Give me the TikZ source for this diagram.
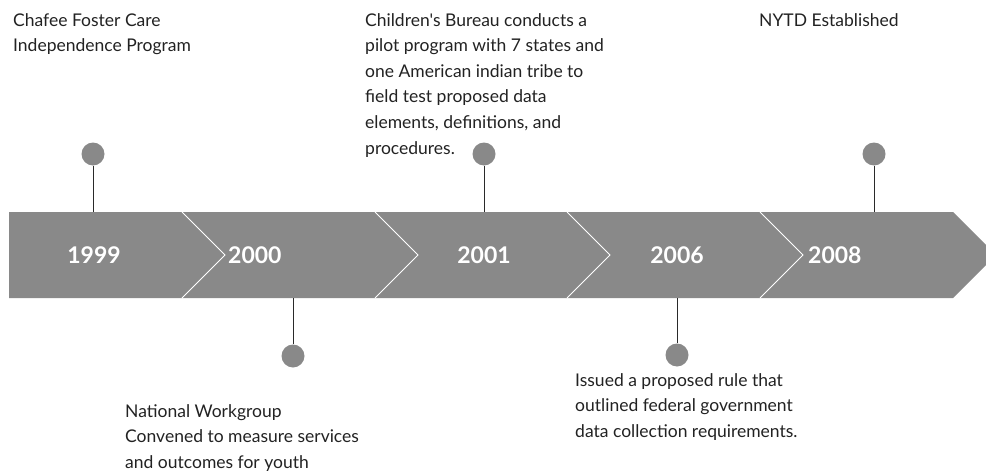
\documentclass[tikz,border=0pt]{standalone}
\usepackage{fontspec}
\setmainfont{Lato}[Ligatures=TeXOff]
\definecolor{bandgrey}{HTML}{898989}
\definecolor{txt}{HTML}{222222}
\definecolor{stemc}{HTML}{2A2A2A}
\begin{document}
\begin{tikzpicture}[x=1pt,y=-1pt,
  band/.style={fill=bandgrey},
  chev/.style={draw=white, line width=0.8pt},
  year/.style={text=white, font=\fontsize{23}{27}\selectfont\bfseries, inner sep=0pt},
  dot/.style={circle, fill=bandgrey, minimum size=23pt, inner sep=0pt},
  stem/.style={draw=stemc, line width=1pt},
  desc/.style={text=txt, font=\fontsize{17.5}{25.6}\selectfont, align=left, inner sep=0pt, anchor=north west}]
\useasboundingbox (0,0) rectangle (986,471);
\clip (0,0) rectangle (986,471);
% band
\fill[band] (9,212) -- (953,212) -- (996,255) -- (953,298) -- (9,298) -- cycle;
\foreach \x in {182,375,567,760}{
  \draw[chev] (\x,212) -- (\x+43,255) -- (\x,298);
}
% years
\node[year] (y1) at (94,255) {1999};
\node[year, anchor=west] (y2) at (228,255) {2000};
\node[year] (y3) at (484,255) {2001};
\node[year] (y4) at (677,255) {2006};
\node[year, anchor=west] (y5) at (808,255) {2008};
% dots and stems
\node[dot] (c1) at (93,154) {};
\node[dot] (c2) at (293,356) {};
\node[dot] (c3) at (484,154) {};
\node[dot] (c4) at (677,355) {};
\node[dot] (c5) at (874,154) {};
\coordinate (b1) at (93,212);
\coordinate (b2) at (293,298);
\coordinate (b3) at (484,212);
\coordinate (b4) at (677,298);
\coordinate (b5) at (874,212);
\draw[stem] (c1) -- (b1);
\draw[stem] (c2) -- (b2);
\draw[stem] (c3) -- (b3);
\draw[stem] (c4) -- (b4);
\draw[stem] (c5) -- (b5);
% descriptions
\node[desc] (t1) at (13,13) {Chafee Foster Care\\Independence Program};
\node[desc] (t3) at (365,13) {Children's Bureau conducts a\\pilot program with 7 states and\\one American indian tribe to\\field test proposed data\\elements, definitions, and\\procedures.};
\node[desc] (t5) at (759,13) {NYTD Established};
\node[desc] (t2) at (125,404) {National Workgroup\\Convened to measure services\\and outcomes for youth};
\node[desc] (t4) at (575,373) {Issued a proposed rule that\\outlined federal government\\data collection requirements.};
\end{tikzpicture}
\end{document}
